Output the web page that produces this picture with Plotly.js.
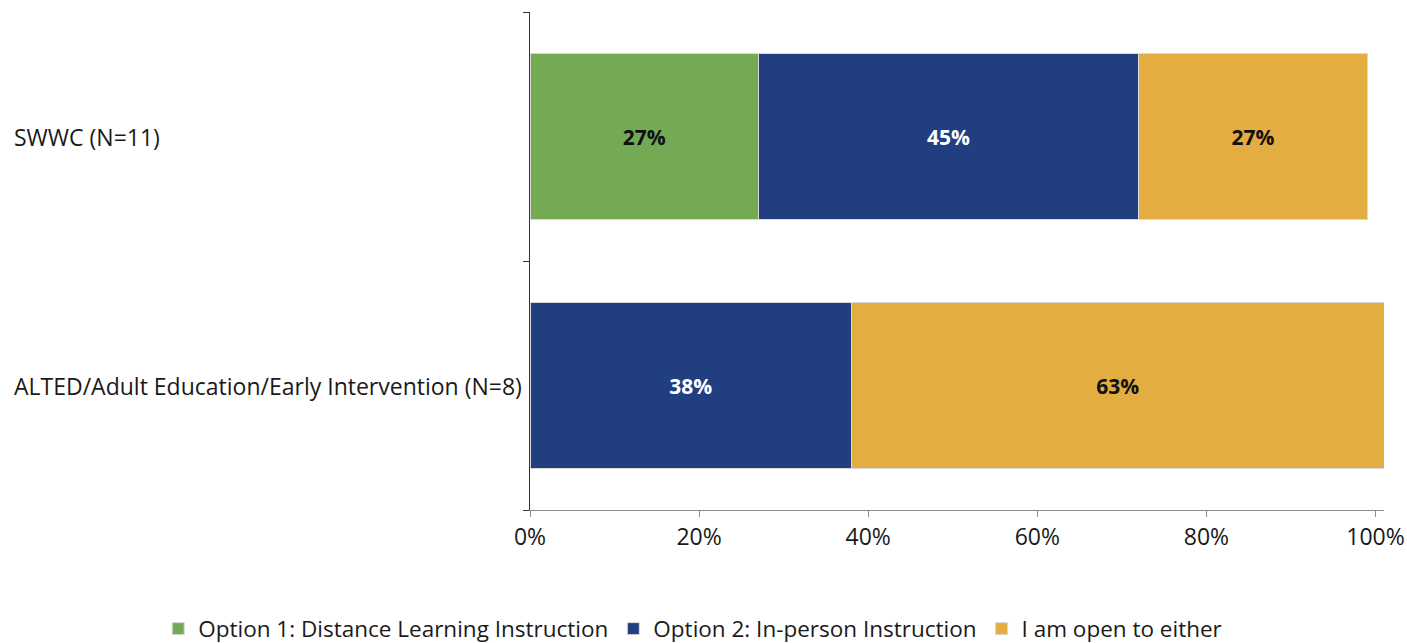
<!DOCTYPE html>
<html>
<head>
<meta charset="utf-8">
<script src="https://cdn.plot.ly/plotly-3.0.1.min.js"></script>
<style>html,body{margin:0;padding:0;background:#fff;}#chart{width:1407px;height:643px;}</style>
</head>
<body>
<div id="chart"></div>
<script>
const categories = ["SWWC (N=11)", "ALTED/Adult Education/Early Intervention (N=8)"];
const seriesNames = ["Option 1: Distance Learning Instruction", "Option 2: In-person Instruction", "I am open to either"];
const option1 = [27, null];
const option2 = [45, 38];
const openEither = [27, 63];
const xTicks = [0, 20, 40, 60, 80, 100];
const xTickLabels = ["0%", "20%", "40%", "60%", "80%", "100%"];

const colors = ["#75AA55", "#213F80", "#E4AD42"];
const textColors = ["#111111", "#ffffff", "#111111"];
const seriesValues = [option1, option2, openEither];
const FONT = "Open Sans, Segoe UI, DejaVu Sans, sans-serif";

const traces = seriesValues.map((vals, i) => ({
  type: "bar",
  orientation: "h",
  name: seriesNames[i],
  y: categories,
  x: vals,
  marker: {color: colors[i], line: {color: "#d9d9d9", width: 1}},
  text: vals.map(v => v == null ? "" : v + "%"),
  textposition: "inside",
  insidetextanchor: "middle",
  textangle: 0,
  insidetextfont: {family: FONT, size: 21, color: textColors[i], weight: "bold"},
  hoverinfo: "x+name"
}));

const PW = 1407 - 530 - 22.5;
// category labels, left-aligned as in the reference
const labelAnnotations = categories.map(c => ({
  xref: "paper", x: (12 - 530) / PW, xanchor: "left",
  yref: "y", y: c, yanchor: "middle",
  text: c, showarrow: false,
  font: {family: FONT, size: 23, color: "#1a1a1a"}
}));

const layout = {
  width: 1407,
  height: 643,
  barmode: "stack",
  bargap: 0.33,
  margin: {l: 530, r: 22.5, t: 12, b: 133, autoexpand: false},
  paper_bgcolor: "#ffffff",
  plot_bgcolor: "#ffffff",
  font: {family: FONT, size: 23, color: "#1a1a1a"},
  xaxis: {
    range: [0, 101],
    tickvals: xTicks,
    ticktext: xTickLabels,
    showgrid: false,
    zeroline: false,
    showline: true,
    linecolor: "#8c8c8c",
    linewidth: 1,
    ticks: "outside",
    ticklen: 6,
    tickcolor: "#8c8c8c",
    tickfont: {family: FONT, size: 23, color: "#1a1a1a"},
    fixedrange: true
  },
  yaxis: {
    type: "category",
    categoryorder: "array",
    categoryarray: categories.slice().reverse(),
    showgrid: false,
    zeroline: false,
    showline: true,
    linecolor: "#333333",
    linewidth: 1,
    ticks: "outside",
    tickson: "boundaries",
    ticklen: 6,
    tickcolor: "#333333",
    showticklabels: false,
    fixedrange: true
  },
  annotations: labelAnnotations,
  showlegend: true,
  legend: {
    orientation: "h",
    xref: "paper", x: (158 - 530) / PW, xanchor: "left",
    yref: "paper", y: -(629 - 510) / 498, yanchor: "middle",
    font: {family: FONT, size: 22.5, color: "#1a1a1a"},
    itemwidth: 30,
    traceorder: "normal"
  }
};

Plotly.newPlot("chart", traces, layout, {displayModeBar: false, staticPlot: true});
</script>
</body>
</html>
